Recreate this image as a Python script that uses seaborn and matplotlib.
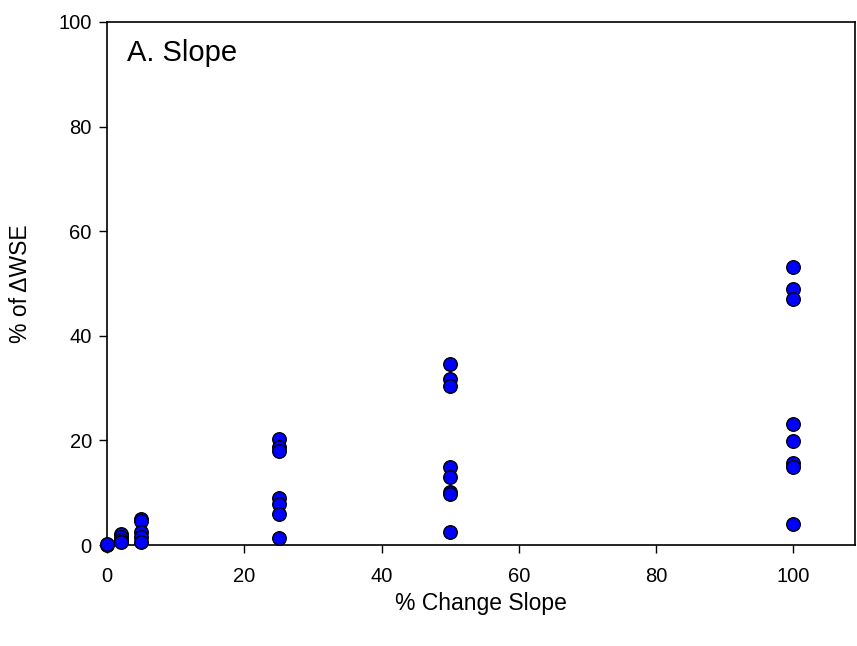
import matplotlib
matplotlib.use("Agg")
import matplotlib.pyplot as plt
import seaborn as sns
import pandas as pd

x0 = [0, 0]
y0 = [0.0, 0.2]
x2 = [2, 2, 2, 2]
y2 = [2.1, 1.5, 1.0, 0.5]
x5 = [5, 5, 5, 5, 5]
y5 = [5.0, 4.5, 2.4, 1.6, 0.6]
x25 = [25] * 7
y25 = [20.3, 18.8, 18.0, 8.9, 7.8, 6.0, 1.3]
x50 = [50] * 8
y50 = [34.6, 31.7, 30.4, 14.9, 13.0, 10.1, 9.8, 2.5]
x100 = [100] * 8
y100 = [53.2, 48.9, 47.0, 23.1, 19.9, 15.7, 14.9, 4.0]

df = pd.DataFrame({
    "x": x0 + x2 + x5 + x25 + x50 + x100,
    "y": y0 + y2 + y5 + y25 + y50 + y100,
})

sns.set_style("white")
plt.rcParams['font.family'] = ['Liberation Sans', 'DejaVu Sans']
plt.rcParams['text.color'] = 'black'
plt.rcParams['axes.labelcolor'] = 'black'

fig = plt.figure(figsize=(8.57, 6.46), dpi=100)
ax = fig.add_axes([0.1249, 0.1563, 0.8728, 0.8097])
sns.scatterplot(data=df, x="x", y="y", ax=ax, color="#0000ff", edgecolor="black",
                linewidth=1.0, s=95, clip_on=False, zorder=3)
ax.set_xlim(0, 109)
ax.set_ylim(0, 100)
ax.set_xticks([0, 20, 40, 60, 80, 100])
ax.set_yticks([0, 20, 40, 60, 80, 100])
ax.tick_params(axis="both", labelsize=14.5, direction="out", length=6, width=1,
               bottom=True, left=True, top=False, right=False, colors="black")
ax.tick_params(axis="x", pad=10)
ax.tick_params(axis="y", pad=5)
for sp in ax.spines.values():
    sp.set_color("black")
    sp.set_linewidth(1.2)
ax.set_xlabel("% Change Slope", fontsize=16.5, labelpad=4)
ax.set_ylabel("% of \u0394WSE", fontsize=16.5, labelpad=19)
ax.text(0.027, 0.94, "A. Slope", transform=ax.transAxes, fontsize=21,
        va="center", ha="left")
fig.savefig("out.png", dpi=100)
